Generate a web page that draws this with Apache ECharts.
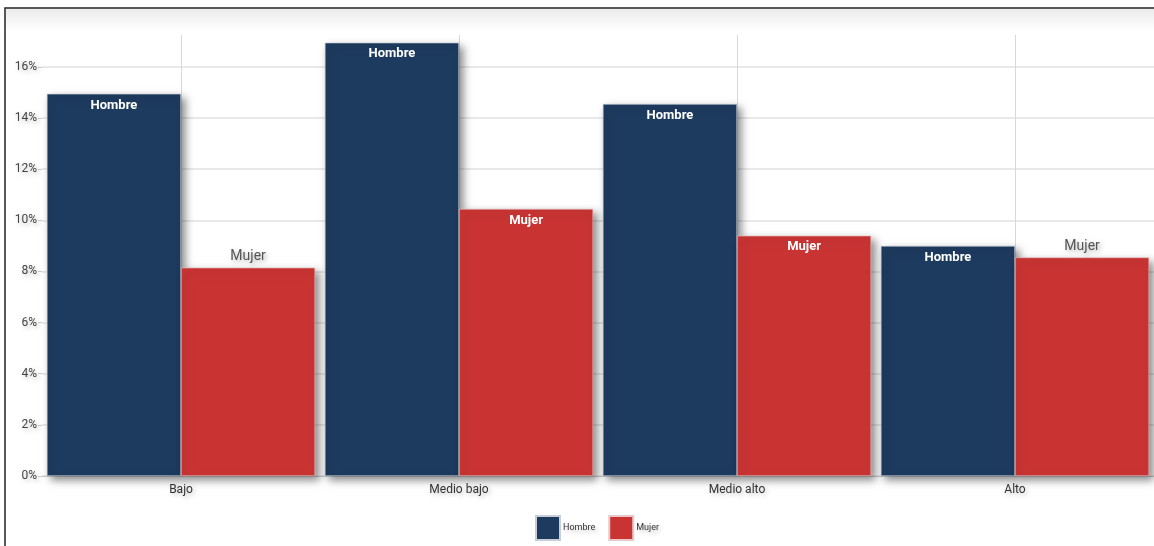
<!DOCTYPE html>
<html>
<head>
<meta charset="utf-8">
<script src="https://cdn.jsdelivr.net/npm/echarts@6/dist/echarts.min.js"></script>
<style>html,body{margin:0;padding:0;background:#fff;}#c{width:1154px;height:546px;}</style>
</head>
<body>
<div id="c"></div>
<script>
const categories = ['Bajo', 'Medio bajo', 'Medio alto', 'Alto'];
const hombre = [14.95, 16.95, 14.55, 9.0];
const mujer = [8.15, 10.45, 9.4, 8.55];
const mujerInside = [false, true, true, false];
const yTicks = [0, 2, 4, 6, 8, 10, 12, 14, 16];

const FONT = "Roboto, 'Noto Sans', sans-serif";
const NAVY = '#1d3b5f';
const RED = '#c93433';
const shadow = { shadowColor: 'rgba(0,0,0,0.45)', shadowBlur: 8, shadowOffsetX: 4, shadowOffsetY: 4 };
const txtShadow = { textShadowColor: 'rgba(0,0,0,0.25)', textShadowBlur: 4, textShadowOffsetX: 2, textShadowOffsetY: 2 };

const chart = echarts.init(document.getElementById('c'));
chart.setOption({
  animation: false,
  backgroundColor: '#fff',
  textStyle: { fontFamily: FONT },
  graphic: [
    { type: 'rect', z: -10, silent: true, shape: { x: 6, y: 9, width: 1160, height: 22 },
      style: { fill: new echarts.graphic.LinearGradient(0, 0, 0, 1, [{ offset: 0, color: '#ececec' }, { offset: 1, color: '#ffffff' }]) } },
    { type: 'rect', z: 100, silent: true, shape: { x: 5, y: 8, width: 1200, height: 600 },
      style: { fill: 'none', stroke: '#222', lineWidth: 1.5 } }
  ],
  grid: { left: 42, right: 0, top: 35, bottom: 70 },
  legend: {
    left: 535, top: 515, padding: 0, itemWidth: 24, itemHeight: 24, itemGap: 13, icon: 'rect',
    textStyle: Object.assign({ fontSize: 9, color: '#333', fontFamily: FONT, padding: [0, 0, 0, -2] }, txtShadow),
    data: ['Hombre', 'Mujer']
  },
  xAxis: {
    type: 'category', data: categories,
    axisLine: { lineStyle: { color: '#ccc' } },
    axisTick: { show: false },
    axisLabel: Object.assign({ color: '#333', fontSize: 12, fontFamily: FONT, margin: 8 }, txtShadow),
    splitLine: { show: false }
  },
  yAxis: {
    type: 'value', min: 0, max: 17.25, interval: 2,
    axisLine: { show: false },
    axisTick: { show: true, length: 4, lineStyle: { color: '#ccc' } },
    axisLabel: Object.assign({
      color: '#444', fontSize: 12, fontFamily: FONT, margin: 5, showMaxLabel: false,
      formatter: v => (yTicks.indexOf(v) >= 0 ? v + '%' : '')
    }, txtShadow),
    splitLine: { show: true, showMaxLine: false, lineStyle: { color: '#e2e2e2', width: 1.5 } }
  },
  series: [
    {
      name: 'grid', type: 'line', data: categories.map(() => null), z: 1, silent: true,
      markLine: {
        silent: true, symbol: 'none', label: { show: false }, z: 1,
        lineStyle: { color: '#d8d8d8', type: 'solid', width: 1 },
        data: categories.map(c => ({ xAxis: c }))
      }
    },
    {
      name: 'Hombre', type: 'bar', data: hombre, barGap: '0%', barCategoryGap: '3.5%', z: 3,
      itemStyle: Object.assign({ color: NAVY, borderColor: '#c8ced6', borderWidth: 0.6 }, shadow),
      label: { show: true, position: 'insideTop', distance: 5, color: '#fff', fontWeight: 'bold',
        fontSize: 13, fontFamily: FONT, formatter: 'Hombre' }
    },
    {
      name: 'Mujer', type: 'bar', z: 3, data: mujer.map((v, i) => ({
        value: v,
        label: mujerInside[i]
          ? { position: 'insideTop', distance: 5, color: '#fff', fontWeight: 'bold', fontSize: 13 }
          : Object.assign({ position: 'top', distance: 4, color: '#555', fontWeight: 'normal', fontSize: 14 },
              { textShadowColor: 'rgba(0,0,0,0.3)', textShadowBlur: 4, textShadowOffsetX: 2, textShadowOffsetY: 2 })
      })),
      itemStyle: Object.assign({ color: RED, borderColor: '#e8c8c8', borderWidth: 0.6 }, shadow),
      label: { show: true, fontFamily: FONT, formatter: 'Mujer' }
    }
  ]
});
</script>
</body>
</html>
